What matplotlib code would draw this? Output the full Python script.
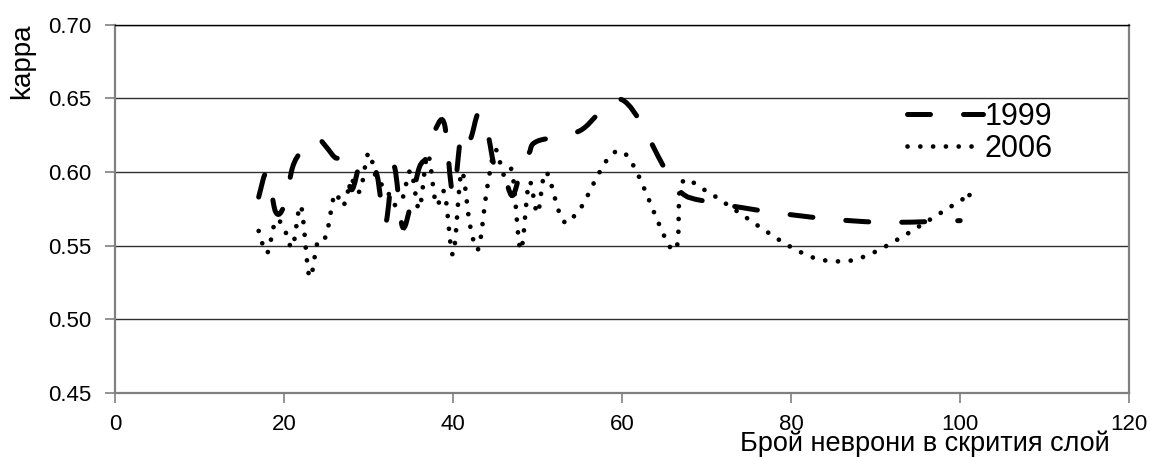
import matplotlib
matplotlib.use("Agg")
import matplotlib.pyplot as plt
from matplotlib.path import Path
from matplotlib.patches import PathPatch
from matplotlib.lines import Line2D

# kappa vs. number of hidden-layer neurons
x_1999 = [17, 18, 19, 20, 21, 22, 23, 24, 25, 26, 27, 28, 29, 30, 31, 32, 33, 34,
          35, 36, 37, 38, 39, 40, 41, 42, 43, 44, 45, 46, 47, 48, 49, 50,
          55, 60, 65, 67, 70, 80, 90, 100]
kappa_1999 = [0.583, 0.600, 0.573, 0.577, 0.603, 0.614, 0.620, 0.623, 0.617, 0.610,
              0.607, 0.588, 0.606, 0.607, 0.598, 0.565, 0.604, 0.563, 0.578, 0.603,
              0.611, 0.630, 0.632, 0.585, 0.627, 0.622, 0.640, 0.629, 0.601, 0.598,
              0.584, 0.600, 0.613, 0.621, 0.628, 0.649, 0.603, 0.586, 0.580, 0.571,
              0.566, 0.567]

x_2006 = [17, 18, 19, 20, 21, 22, 23, 24, 25, 26, 27, 28, 29, 30, 31, 32, 33, 34,
          35, 36, 37, 38, 39, 40, 41, 42, 43, 44, 45, 46, 47, 48, 49, 50,
          51, 53, 55, 60, 66, 67, 70, 80, 85, 90, 100, 101]
kappa_2006 = [0.560, 0.545, 0.567, 0.562, 0.549, 0.577, 0.529, 0.553, 0.557, 0.585,
              0.577, 0.594, 0.587, 0.613, 0.594, 0.590, 0.578, 0.582, 0.601, 0.575,
              0.612, 0.578, 0.586, 0.544, 0.600, 0.564, 0.548, 0.588, 0.615, 0.598,
              0.600, 0.547, 0.593, 0.572, 0.600, 0.567, 0.575, 0.614, 0.547, 0.592,
              0.587, 0.549, 0.5395, 0.546, 0.5805, 0.584]

labels = ["1999", "2006"]


def smooth_path(xs, ys):
    # cubic bezier through every point (smoothed line, Catmull-Rom style)
    pts = list(zip(xs, ys))
    n = len(pts)
    verts = [pts[0]]
    codes = [Path.MOVETO]
    for i in range(n - 1):
        p0 = pts[i - 1] if i > 0 else pts[i]
        p1 = pts[i]
        p2 = pts[i + 1]
        p3 = pts[i + 2] if i + 2 < n else pts[i + 1]
        c1 = (p1[0] + (p2[0] - p0[0]) / 6, p1[1] + (p2[1] - p0[1]) / 6)
        c2 = (p2[0] - (p3[0] - p1[0]) / 6, p2[1] - (p3[1] - p1[1]) / 6)
        verts += [c1, c2, p2]
        codes += [Path.CURVE4] * 3
    return Path(verts, codes)


plt.rcParams['font.family'] = ['Liberation Sans', 'DejaVu Sans']

fig = plt.figure(figsize=(11.51, 4.57), dpi=100)
ax = fig.add_axes([0.0999, 0.14, 0.8812, 0.806])

dash_ls = (0, (4.6, 6.6))
dash_lw = 3.6
dot_ls = (0, (0.01, 2.7))
dot_lw = 3.4

ax.add_patch(PathPatch(smooth_path(x_1999, kappa_1999), fill=False,
                       edgecolor='black', linestyle=dash_ls, linewidth=dash_lw,
                       capstyle='round', zorder=3))
ax.add_patch(PathPatch(smooth_path(x_2006, kappa_2006), fill=False,
                       edgecolor='black', linestyle=dot_ls, linewidth=dot_lw,
                       capstyle='round', zorder=3))

ax.set_xlim(0, 120)
ax.set_ylim(0.45, 0.70)
ax.set_xticks(range(0, 121, 20))
ax.set_yticks([0.45, 0.50, 0.55, 0.60, 0.65, 0.70])
ax.set_yticklabels(["%.2f" % v for v in ax.get_yticks()])
ax.yaxis.grid(True, color='#303030', linewidth=1.0)
ax.set_axisbelow(True)
ax.tick_params(direction='out', length=7, width=1.2, color='#808080',
               labelsize=16)
ax.tick_params(axis='y', pad=10)
ax.tick_params(axis='x', pad=8)
for side in ['left', 'bottom', 'right']:
    ax.spines[side].set_color('#808080')
    ax.spines[side].set_linewidth(1.6)
ax.spines['top'].set_color('black')
ax.spines['top'].set_linewidth(1.0)

fig.text(925 / 1151, 0.0, "Брой неврони в скрития слой", ha='center',
         va='bottom', fontsize=19.5)
fig.text(22 / 1151, 1 - 61 / 457, "kappa", rotation=90, ha='center',
         va='center', fontsize=20)

handles = [Line2D([], [], color='black', linestyle=dash_ls, linewidth=dash_lw,
                  dash_capstyle='round'),
           Line2D([], [], color='black', linestyle=dot_ls, linewidth=dot_lw,
                  dash_capstyle='round')]
fig.legend(handles, labels, loc='upper left',
           bbox_to_anchor=(907 / 1151, 1 - 102 / 457), frameon=False,
           fontsize=22, borderpad=0, borderaxespad=0, handlelength=2.5,
           handletextpad=0.05, labelspacing=0.05)

fig.savefig('out.png', dpi=100)
